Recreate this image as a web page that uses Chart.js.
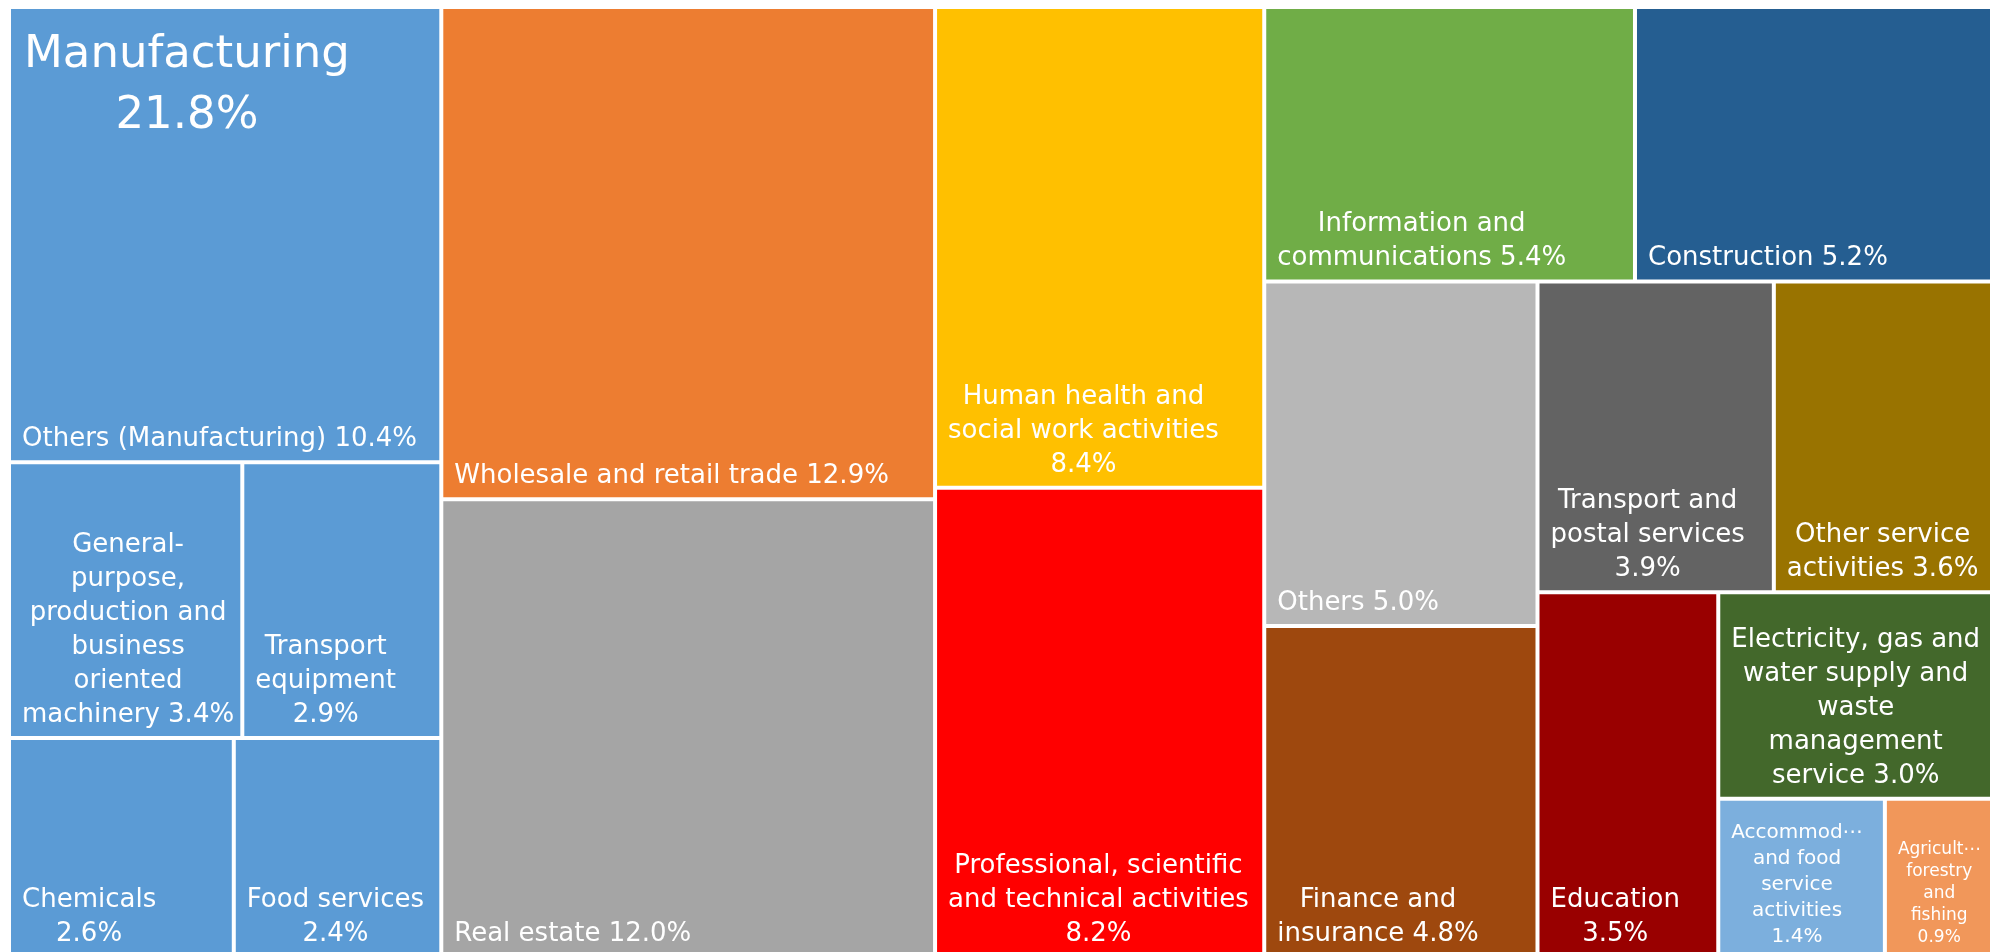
<!DOCTYPE html>
<html>
<head>
<meta charset="utf-8">
<title>Share of GDP by industry</title>
<script src="https://cdn.jsdelivr.net/npm/chart.js@4.4.0/dist/chart.umd.min.js"></script>
<style>
  html, body { margin: 0; padding: 0; background: #ffffff; overflow: hidden; }
  #wrap { position: absolute; left: 0; top: 0; width: 2000px; height: 960px; }
</style>
</head>
<body>
<div id="wrap"><canvas id="chart"></canvas></div>
<script>
// ---- data ----
const categories = [
  'Others (Manufacturing)',
  'General-purpose, production and business oriented machinery',
  'Transport equipment',
  'Chemicals',
  'Food services',
  'Wholesale and retail trade',
  'Real estate',
  'Human health and social work activities',
  'Professional, scientific and technical activities',
  'Information and communications',
  'Construction',
  'Others',
  'Finance and insurance',
  'Transport and postal services',
  'Other service activities',
  'Education',
  'Electricity, gas and water supply and waste management service',
  'Accommodation and food service activities',
  'Agriculture, forestry and fishing'
];
const shares = [10.4, 3.4, 2.9, 2.6, 2.4, 12.9, 12.0, 8.4, 8.2, 5.4, 5.2, 5.0, 4.8, 3.9, 3.6, 3.5, 3.0, 1.4, 0.9];
const groupNames = ['Manufacturing'];
const groupShares = [21.8];

// wrapped label text; {v} is replaced by the share
const labelText = [
  'Others (Manufacturing) {v}',
  'General-\npurpose,\nproduction and\nbusiness\noriented\nmachinery {v}',
  'Transport\nequipment\n{v}',
  'Chemicals\n{v}',
  'Food services\n{v}',
  'Wholesale and retail trade {v}',
  'Real estate {v}',
  'Human health and\nsocial work activities\n{v}',
  'Professional, scientific\nand technical activities\n{v}',
  'Information and\ncommunications {v}',
  'Construction {v}',
  'Others {v}',
  'Finance and\ninsurance {v}',
  'Transport and\npostal services\n{v}',
  'Other service\nactivities {v}',
  'Education\n{v}',
  'Electricity, gas and\nwater supply and\nwaste\nmanagement\nservice {v}',
  'Accommod\u22EF\nand food\nservice\nactivities\n{v}',
  'Agricult\u22EF\nforestry\nand\nfishing\n{v}'
];
const groupLabelText = ['Manufacturing\n{v}'];

// ---- styles ----
const colors = [
  '#5B9BD5', '#5B9BD5', '#5B9BD5', '#5B9BD5', '#5B9BD5',
  '#ED7D31', '#A5A5A5', '#FFC000', '#FF0000', '#70AD47', '#255E91',
  '#B7B7B7', '#9E480E', '#636363', '#997300', '#990000', '#43682B',
  '#7CAFDD', '#F1975A'
];
// font size / line step for cells that use a smaller face
const smallFonts = { 17: [20, 26], 18: [17, 22] };
const FONT = '"DejaVu Sans", Verdana, sans-serif';

// ---- arrangement of the cells: rows split horizontally, cols vertically ----
const tree = { dir: 'row', kids: [
  { group: 0, body: { dir: 'col', kids: [0, { dir: 'row', kids: [1, 2] }, { dir: 'row', kids: [3, 4] }] } },
  { dir: 'col', kids: [5, 6] },
  { dir: 'col', kids: [7, 8] },
  { dir: 'col', kids: [
    { dir: 'row', kids: [9, 10] },
    { dir: 'row', kids: [
      { dir: 'col', kids: [11, 12] },
      { dir: 'col', kids: [
        { dir: 'row', kids: [13, 14] },
        { dir: 'row', kids: [15, { dir: 'col', kids: [16, { dir: 'row', kids: [17, 18] }] }] }
      ] }
    ] }
  ] }
] };

function weightOf(node, values) {
  if (typeof node === 'number') return values[node];
  if (node.group !== undefined) return groupShares[node.group];
  return node.kids.reduce((s, k) => s + weightOf(k, values), 0);
}

function place(node, x0, y0, x1, y1, values, out, groupOut) {
  if (typeof node === 'number') { out[node] = { x0, y0, x1, y1 }; return; }
  if (node.group !== undefined) {
    groupOut[node.group] = { x0, y0, x1, y1 };
    place(node.body, x0, y0, x1, y1, values, out, groupOut);
    return;
  }
  const total = node.kids.reduce((s, k) => s + weightOf(k, values), 0);
  const row = node.dir === 'row';
  const span = row ? x1 - x0 : y1 - y0;
  let pos = row ? x0 : y0;
  node.kids.forEach(k => {
    const d = span * weightOf(k, values) / total;
    if (row) place(k, pos, y0, pos + d, y1, values, out, groupOut);
    else place(k, x0, pos, x1, pos + d, values, out, groupOut);
    pos += d;
  });
}

// ---- treemap controller: every cell is a BarElement placed through the x/y scales ----
class TreemapController extends Chart.DatasetController {
  update(mode) {
    const meta = this._cachedMeta;
    const ds = this.getDataset();
    const cells = [], groups = [];
    place(ds.tree, 0, 0, 1, 1, ds.data, cells, groups);
    const xs = meta.xScale, ys = meta.yScale;
    meta.data.forEach((el, i) => {
      const c = cells[i];
      const l = xs.getPixelForValue(c.x0), r = xs.getPixelForValue(c.x1);
      const t = ys.getPixelForValue(c.y0), b = ys.getPixelForValue(c.y1);
      Object.assign(el, {
        x: (l + r) / 2, y: Math.min(t, b), base: Math.max(t, b),
        width: Math.abs(r - l), height: Math.abs(b - t),
        horizontal: false, inflateAmount: 0,
        borderSkipped: { top: false, bottom: false, left: false, right: false },
        options: this.resolveDataElementOptions(i, mode)
      });
    });
    meta.groupRects = groups.map(g => {
      const l = xs.getPixelForValue(g.x0), r = xs.getPixelForValue(g.x1);
      const t = ys.getPixelForValue(g.y0), b = ys.getPixelForValue(g.y1);
      return { left: Math.min(l, r), right: Math.max(l, r), top: Math.min(t, b), bottom: Math.max(t, b) };
    });
  }
}
TreemapController.id = 'treemap';
TreemapController.defaults = { datasetElementType: false, dataElementType: 'bar' };
Chart.register(TreemapController);

const fmt = v => v.toFixed(1) + '%';

function drawBlock(ctx, lines, left, size, step, anchorY, fromTop) {
  ctx.font = size + 'px ' + FONT;
  const w = Math.max(...lines.map(s => ctx.measureText(s).width));
  const cx = left + w / 2;
  lines.forEach((s, k) => {
    const y = fromTop ? anchorY + k * step : anchorY - (lines.length - 1 - k) * step;
    ctx.fillText(s, cx, y);
  });
}

const cellLabels = {
  id: 'cellLabels',
  afterDatasetsDraw(chart) {
    const ctx = chart.ctx;
    const meta = chart.getDatasetMeta(0);
    ctx.save();
    ctx.fillStyle = '#ffffff';
    ctx.textAlign = 'center';
    ctx.textBaseline = 'alphabetic';
    meta.data.forEach((el, i) => {
      const left = el.x - el.width / 2;
      const bottom = el.base;
      const [size, step] = smallFonts[i] || [26, 34];
      const lines = labelText[i].replace('{v}', fmt(shares[i])).split('\n');
      drawBlock(ctx, lines, left + 13, size, step, bottom - (smallFonts[i] ? 15 : 16), false);
    });
    (meta.groupRects || []).forEach((g, j) => {
      const lines = groupLabelText[j].replace('{v}', fmt(groupShares[j])).split('\n');
      drawBlock(ctx, lines, g.left + 15, 45, 61, g.top + 60, true);
    });
    ctx.restore();
  }
};

new Chart(document.getElementById('chart'), {
  type: 'treemap',
  data: {
    labels: categories,
    datasets: [{
      data: shares,
      tree: tree,
      backgroundColor: colors,
      borderColor: '#ffffff',
      borderWidth: 2
    }]
  },
  options: {
    responsive: true,
    maintainAspectRatio: false,
    animation: false,
    events: [],
    layout: { padding: { left: 9, top: 7, right: 8, bottom: 3 } },
    scales: {
      x: { type: 'linear', min: 0, max: 1, display: false },
      y: { type: 'linear', min: 0, max: 1, reverse: true, display: false }
    },
    plugins: { legend: { display: false }, tooltip: { enabled: false } }
  },
  plugins: [cellLabels]
});
</script>
</body>
</html>
